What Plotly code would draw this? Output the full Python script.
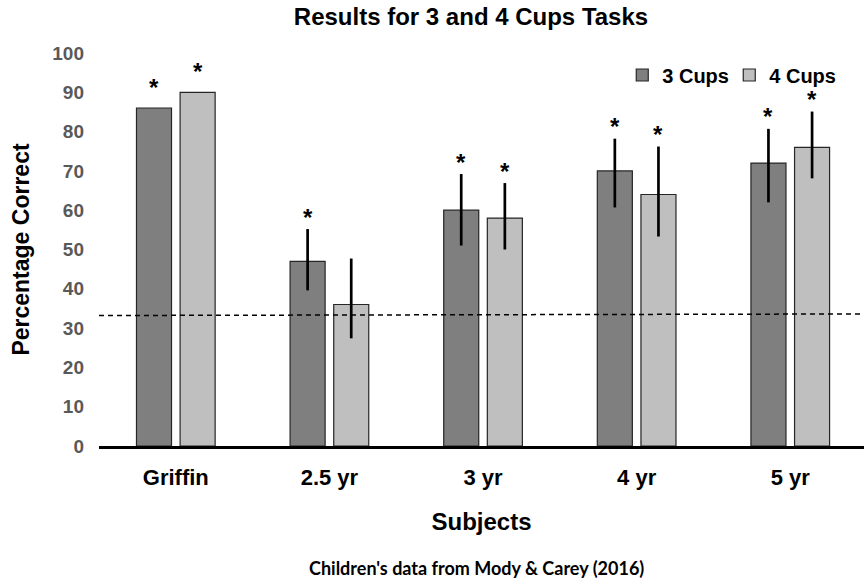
import plotly.graph_objects as go

categories = ["Griffin", "2.5 yr", "3 yr", "4 yr", "5 yr"]
cups3 = [86, 47, 60, 70, 72]
cups4 = [90, 36, 58, 64, 76]
cups3_err_plus = [None, 8.2, 9.2, 8.2, 8.7]
cups3_err_minus = [None, 7.4, 9.0, 9.3, 10.0]
cups4_err_plus = [None, 11.7, 8.9, 12.2, 9.1]
cups4_err_minus = [None, 8.6, 8.0, 10.7, 7.9]
significant3 = [True, True, True, True, True]
significant4 = [True, False, True, True, True]
chance_level = [33.2, 33.6]

FONT = "Liberation Sans, Arial, sans-serif"

fig = go.Figure()
fig.add_trace(go.Bar(
    name="3 Cups", x=categories, y=cups3,
    marker=dict(color="#7f7f7f", line=dict(color="#262626", width=1.2)),
    error_y=dict(type="data", symmetric=False, array=cups3_err_plus,
                 arrayminus=cups3_err_minus, color="black", thickness=2.7, width=0),
))
fig.add_trace(go.Bar(
    name="4 Cups", x=categories, y=cups4,
    marker=dict(color="#bfbfbf", line=dict(color="#262626", width=1.2)),
    error_y=dict(type="data", symmetric=False, array=cups4_err_plus,
                 arrayminus=cups4_err_minus, color="black", thickness=2.7, width=0),
))

annotations = []
for vals, errs, sig, shift in [(cups3, cups3_err_plus, significant3, -21.8),
                               (cups4, cups4_err_plus, significant4, 21.8)]:
    for c, v, e, s in zip(categories, vals, errs, sig):
        if not s:
            continue
        top = v + (e if e is not None else 0)
        annotations.append(dict(
            x=c, y=top, xref="x", yref="y", text="<b>*</b>", showarrow=False,
            xshift=shift, yshift=(12 if e is not None else 21),
            yanchor="middle", font=dict(family=FONT, size=24, color="black")))

annotations.append(dict(
    x=0.494, y=-0.310, xref="paper", yref="paper",
    text="<b>Children's data from Mody &amp; Carey (2016)</b>", showarrow=False,
    xanchor="center", yanchor="middle",
    font=dict(family="Lato, Carlito, sans-serif", size=18, color="black")))

fig.add_shape(type="line", xref="paper", yref="y", x0=0, x1=1,
              y0=chance_level[0], y1=chance_level[1],
              line=dict(color="black", width=1.5, dash="5px,4px"), layer="above")

fig.update_layout(
    width=864, height=583, autosize=False,
    margin=dict(l=99, r=0, t=53, b=137),
    plot_bgcolor="white", paper_bgcolor="white",
    barmode="group", bargap=0.432, bargroupgap=0.197,
    font=dict(family=FONT, color="black"),
    title=dict(text="<b>Results for 3 and 4 Cups Tasks</b>", x=471 / 864,
               xanchor="center", y=1 - 17 / 583, yanchor="middle",
               font=dict(family=FONT, size=24, color="black")),
    legend=dict(orientation="h", x=0.684, xanchor="left", y=0.944, yanchor="middle",
                font=dict(family=FONT, size=20, color="black", weight="bold"),
                bgcolor="rgba(0,0,0,0)", itemclick=False,
                entrywidth=62, entrywidthmode="pixels"),
    annotations=annotations,
    xaxis=dict(range=[-0.5, 4.48], showline=True, linecolor="black", linewidth=3,
               ticks="", showgrid=False, zeroline=False, ticklabelstandoff=10,
               tickfont=dict(family=FONT, size=22, color="black"),
               tickvals=categories, ticktext=["<b>%s</b>" % c for c in categories],
               title=dict(text="<b>Subjects</b>", standoff=24,
                          font=dict(family=FONT, size=24, color="black"))),
    yaxis=dict(range=[0, 100], dtick=10, showline=False, ticks="", showgrid=False,
               zeroline=False, ticklabelstandoff=14,
               tickfont=dict(family=FONT, size=19, color="#595959", weight="bold"),
               title=dict(text="<b>Percentage Correct</b>", standoff=16,
                          font=dict(family=FONT, size=23, color="black"))),
)

fig.write_html("out.html", config={"displayModeBar": False},
               post_script="document.body.style.margin='0';")
